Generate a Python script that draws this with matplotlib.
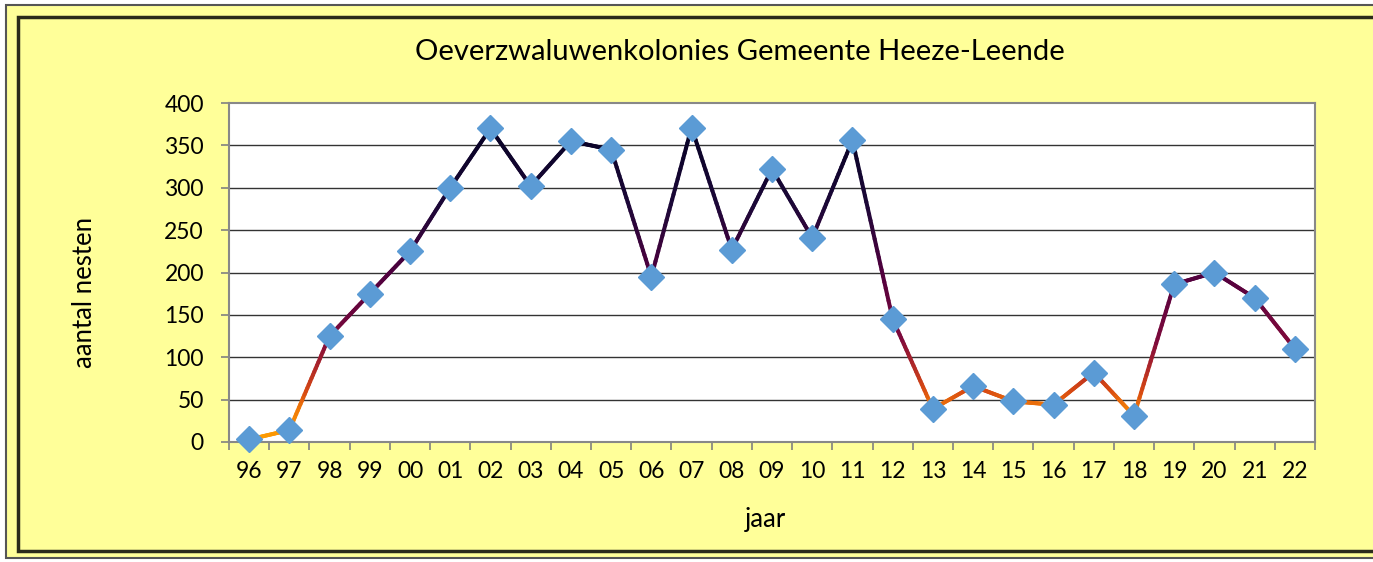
import numpy as np
import matplotlib
matplotlib.use('Agg')
import matplotlib.pyplot as plt
from matplotlib.collections import LineCollection
from matplotlib.colors import LinearSegmentedColormap
from matplotlib.patches import Rectangle

plt.rcParams['font.family'] = ['Lato', 'DejaVu Sans']

# data
jaren = ['96', '97', '98', '99', '00', '01', '02', '03', '04', '05', '06', '07', '08',
         '09', '10', '11', '12', '13', '14', '15', '16', '17', '18', '19', '20', '21', '22']
nesten = [3, 14, 125, 175, 225, 300, 370, 302, 355, 345, 195, 371, 227,
          322, 241, 356, 145, 39, 66, 48, 44, 82, 31, 186, 200, 170, 110]

titel = 'Oeverzwaluwenkolonies Gemeente Heeze-Leende'
x_label = 'jaar'
y_label = 'aantal nesten'

geel = '#FFFF99'
fig = plt.figure(figsize=(13.73, 5.62), dpi=100)
fig.patch.set_facecolor('white')

# kader (dubbele rand)
fig.patches.append(Rectangle((6/1373, 1-558/562), 1.2, (558-5)/562, transform=fig.transFigure,
                             facecolor=geel, edgecolor='#555555', lw=1.5, zorder=-2))
fig.patches.append(Rectangle((18/1373, 1-551/562), 1.2, (551-17)/562, transform=fig.transFigure,
                             facecolor=geel, edgecolor='#2b2b1a', lw=2.5, zorder=-1))

ax = fig.add_axes([229/1373, 1-442/562, (1315-229)/1373, (442-103)/562])
ax.set_zorder(1)
ax.set_facecolor('white')

x = np.arange(len(jaren))
y = np.array(nesten, dtype=float)

# lijn met kleurverloop op basis van de waarde
cmap = LinearSegmentedColormap.from_list('verloop', [
    (0.0, '#FFA000'), (0.1, '#F07A08'), (0.15, '#D84A12'), (0.22, '#B02828'),
    (0.3, '#7E0A3C'), (0.5, '#50003E'), (0.7, '#1C0838'), (1.0, '#00001E')])
segs = []
kleuren = []
for i in range(len(x) - 1):
    xs = np.linspace(x[i], x[i+1], 30)
    ys = np.linspace(y[i], y[i+1], 30)
    for j in range(len(xs) - 1):
        segs.append([(xs[j], ys[j]), (xs[j+1], ys[j+1])])
        kleuren.append((ys[j] + ys[j+1]) / 2 / 400)
lc = LineCollection(segs, colors=cmap(np.array(kleuren)), linewidths=2.9,
                    capstyle='round', zorder=3)
ax.add_collection(lc)
ax.plot(x, y, linestyle='none', marker='D', markersize=13, color='#5B9BD5',
        markeredgecolor='#5B9BD5', zorder=4, clip_on=False)

ax.set_xlim(-0.5, len(jaren) - 0.5)
ax.set_ylim(0, 400)
ax.set_yticks(range(0, 401, 50))
ax.set_xticks(x)
ax.set_xticklabels(jaren)
ax.set_xticks(np.arange(-0.5, len(jaren)), minor=True)
ax.tick_params(axis='x', which='major', length=0, labelsize=16.5, pad=14)
ax.tick_params(axis='x', which='minor', length=6, direction='out', color='#808080', width=1.2)
ax.tick_params(axis='y', length=6, direction='out', color='#808080', width=1.2, labelsize=16.5, pad=12)

for g in range(50, 400, 50):
    ax.axhline(g, color='#333333', lw=1, zorder=1)
for s in ax.spines.values():
    s.set_color('#888888')
    s.set_linewidth(1.5)

fig.text(740/1373, 1-52/562, titel, ha='center', va='center', fontsize=21)
fig.text(765/1373, 1-520/562, x_label, ha='center', va='center', fontsize=18.5)
fig.text(85/1373, 1-292/562, y_label, ha='center', va='center', rotation=90, fontsize=18.5)

fig.savefig('out.png', dpi=100, facecolor=fig.get_facecolor())
